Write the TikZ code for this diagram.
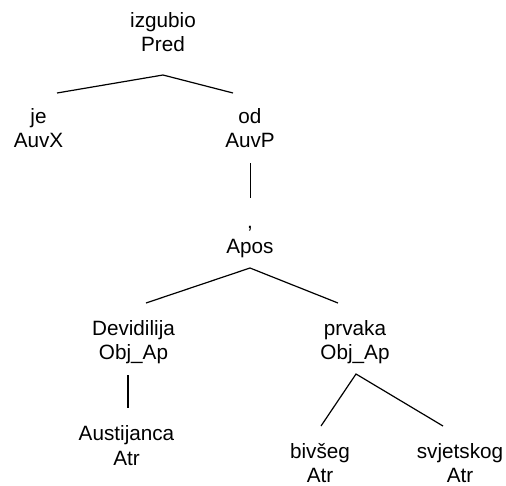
\documentclass[tikz,border=0pt]{standalone}
\usepackage{fontspec}
\setmainfont{Liberation Sans}
\newcommand\tlab[2]{\begin{tabular}[t]{@{}c@{}}#1\\#2\end{tabular}}
\tikzset{
  lbl/.style={anchor=base, inner sep=0pt, font=\fontsize{20.7}{24.5}\selectfont},
  edge/.style={line width=1.2pt, black}
}
\begin{document}
\begin{tikzpicture}[x=1pt, y=-1pt]
\useasboundingbox (0,0) rectangle (506,485);
\node[lbl] (izgubio) at (163,27) {\tlab{izgubio}{Pred}};
\node[lbl] (je) at (38.5,123) {\tlab{je}{AuvX}};
\node[lbl] (od) at (250,123) {\tlab{od}{AuvP}};
\node[lbl] (apos) at (250,228.5) {\tlab{,}{Apos}};
\node[lbl] (devid) at (133.5,335) {\tlab{Devidilija}{Obj\_Ap}};
\node[lbl] (prvaka) at (355,335) {\tlab{prvaka}{Obj\_Ap}};
\node[lbl] (austi) at (126.5,440.5) {\tlab{Austijanca}{Atr}};
\node[lbl] (bivseg) at (320,458) {\tlab{bivšeg}{Atr}};
\node[lbl] (svjet) at (460,458) {\tlab{svjetskog}{Atr}};
\draw[edge] ([shift={(18.5,-30)}]je.base) -- ([shift={(0,48)}]izgubio.base) -- ([shift={(-17,-30)}]od.base);
\draw[edge] ([shift={(0.7,40)}]od.base) -- ([shift={(0.7,-30.5)}]apos.base);
\draw[edge] ([shift={(12.5,-32)}]devid.base) -- ([shift={(0,39.5)}]apos.base) -- ([shift={(-17,-32)}]prvaka.base);
\draw[edge] ([shift={(-5.5,40)}]devid.base) -- ([shift={(1.5,-32.5)}]austi.base);
\draw[edge] ([shift={(1,-32)}]bivseg.base) -- ([shift={(1,39)}]prvaka.base) -- ([shift={(-17,-32)}]svjet.base);
\end{tikzpicture}
\end{document}
